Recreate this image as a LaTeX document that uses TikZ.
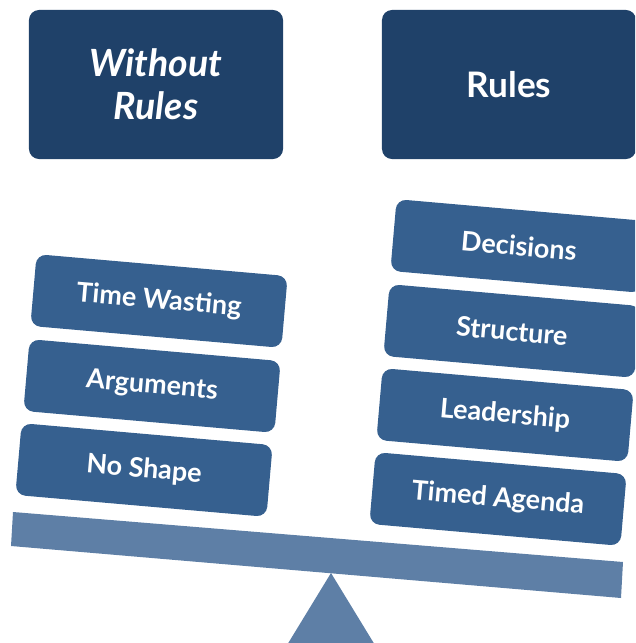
\documentclass[tikz,border=0pt]{standalone}
\usepackage{fontspec}
\setmainfont{Lato}
\usetikzlibrary{positioning}
\definecolor{darkblue}{HTML}{1F4169}
\definecolor{midblue}{HTML}{36608F}
\definecolor{beamblue}{HTML}{5E7FA6}

\begin{document}
\begin{tikzpicture}[x=0.03cm, y=-0.03cm,
    topbox/.style={fill=darkblue, rounded corners=0.3cm, minimum width=7.62cm, minimum height=4.47cm, align=center, text=white, font=\fontsize{30}{37}\selectfont\bfseries},
    itembox/.style={fill=midblue, rounded corners=0.3cm, minimum width=7.56cm, minimum height=2.16cm, text=white, rotate=-5, font=\fontsize{23}{27}\selectfont\bfseries}]
    \useasboundingbox (0,0) rectangle (635,643);
    \clip (0,0) rectangle (635,643);
    % headings
    \node[topbox] (wr) at (156,84.5) {\fontsize{32}{37}\selectfont\itshape Without\\\fontsize{32}{37}\selectfont\itshape Rules};
    \node[topbox] (ru) at (509,84.5) {Rules};
    % left side
    \node[itembox] (tw) at (159,301) {Time Wasting};
    \node[itembox] (ar) at (152,386) {Arguments};
    \node[itembox] (ns) at (144,470) {No Shape};
    % right side
    \node[itembox] (de) at (519,246) {Decisions};
    \node[itembox] (st) at (512,331) {Structure};
    \node[itembox] (le) at (505,415) {Leadership};
    \node[itembox] (ta) at (498,499) {Timed Agenda};
    % beam and fulcrum
    \fill[beamblue] (13,512) -- (623,562) -- (621,598) -- (11,546) -- cycle;
    \fill[beamblue] (331,573) -- (378,650) -- (284,650) -- cycle;
\end{tikzpicture}
\end{document}
